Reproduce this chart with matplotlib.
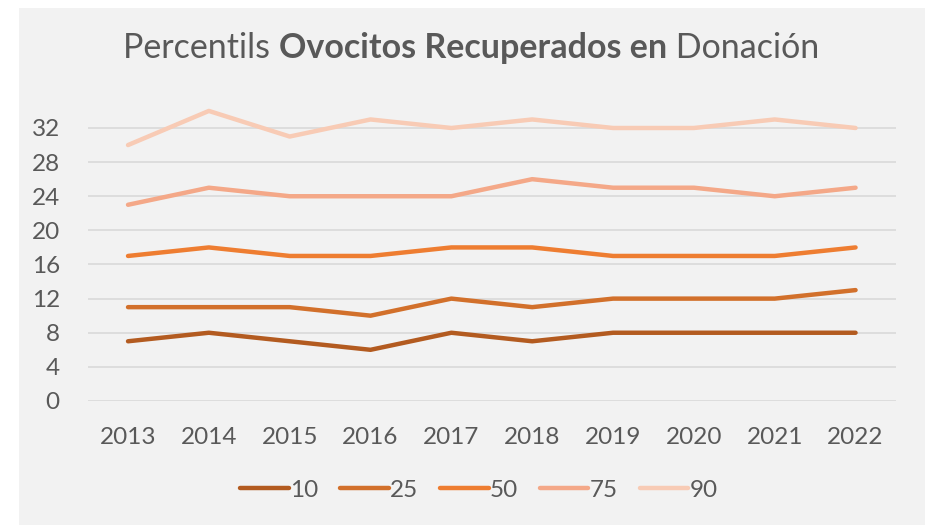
import matplotlib
matplotlib.use("Agg")
import matplotlib.pyplot as plt
from matplotlib.patches import Rectangle

plt.rcParams['font.family'] = ['Lato', 'DejaVu Sans']

years = ['2013', '2014', '2015', '2016', '2017', '2018', '2019', '2020', '2021', '2022']
p10 = [7, 8, 7, 6, 8, 7, 8, 8, 8, 8]
p25 = [11, 11, 11, 10, 12, 11, 12, 12, 12, 13]
p50 = [17, 18, 17, 17, 18, 18, 17, 17, 17, 18]
p75 = [23, 25, 24, 24, 24, 26, 25, 25, 24, 25]
p90 = [30, 34, 31, 33, 32, 33, 32, 32, 33, 32]

series = [('10', p10, '#B35B20'), ('25', p25, '#D2702B'), ('50', p50, '#EE7D31'),
          ('75', p75, '#F4A888'), ('90', p90, '#F8CBB5')]

txt = '#595959'
bg = '#F2F2F2'

fig = plt.figure(figsize=(9.28, 5.25), dpi=100)
fig.patches.append(Rectangle((19 / 928, 0), (925 - 19) / 928, 1 - 8 / 525,
                             transform=fig.transFigure, facecolor=bg, edgecolor='none', zorder=-5))
ax = fig.add_axes([0.0944, 0.2362, 0.8711, 0.585])
ax.set_facecolor('none')

x = list(range(len(years)))
for name, vals, col in series:
    ax.plot(x, vals, color=col, lw=3.2, solid_capstyle='round', solid_joinstyle='round', label=name)

ax.set_xlim(-0.5, len(years) - 0.5)
ax.set_ylim(0, 36)
ax.set_yticks(range(0, 33, 4))
ax.set_xticks(x)
ax.set_xticklabels(years)
ax.grid(axis='y', color='#D9D9D9', lw=1.2)
ax.set_axisbelow(True)
for s in ax.spines.values():
    s.set_visible(False)
ax.tick_params(length=0, labelsize=17.5, labelcolor=txt)
ax.tick_params(axis='y', pad=20)
ax.tick_params(axis='x', pad=19)

leg = fig.legend(loc='center', bbox_to_anchor=(0.516, 0.066), ncol=5, frameon=False,
                 fontsize=17.5, handlelength=2.0, handletextpad=0.05, columnspacing=0.9)
for t in leg.get_texts():
    t.set_color(txt)

# titulo con partes en negrita
parts = [('Percentils ', 'normal'), ('Ovocitos Recuperados en', 'bold'), (' Donación', 'normal')]
fig.canvas.draw()
r = fig.canvas.get_renderer()
objs = []
for s, w in parts:
    objs.append(fig.text(0, 1 - 48 / 525, s, fontsize=24.5, fontweight=w, color=txt, va='center'))
widths = [o.get_window_extent(r).width for o in objs]
x0 = 471 - sum(widths) / 2
for o, w in zip(objs, widths):
    o.set_x(x0 / 928)
    x0 += w

fig.savefig('out.png', dpi=100)
